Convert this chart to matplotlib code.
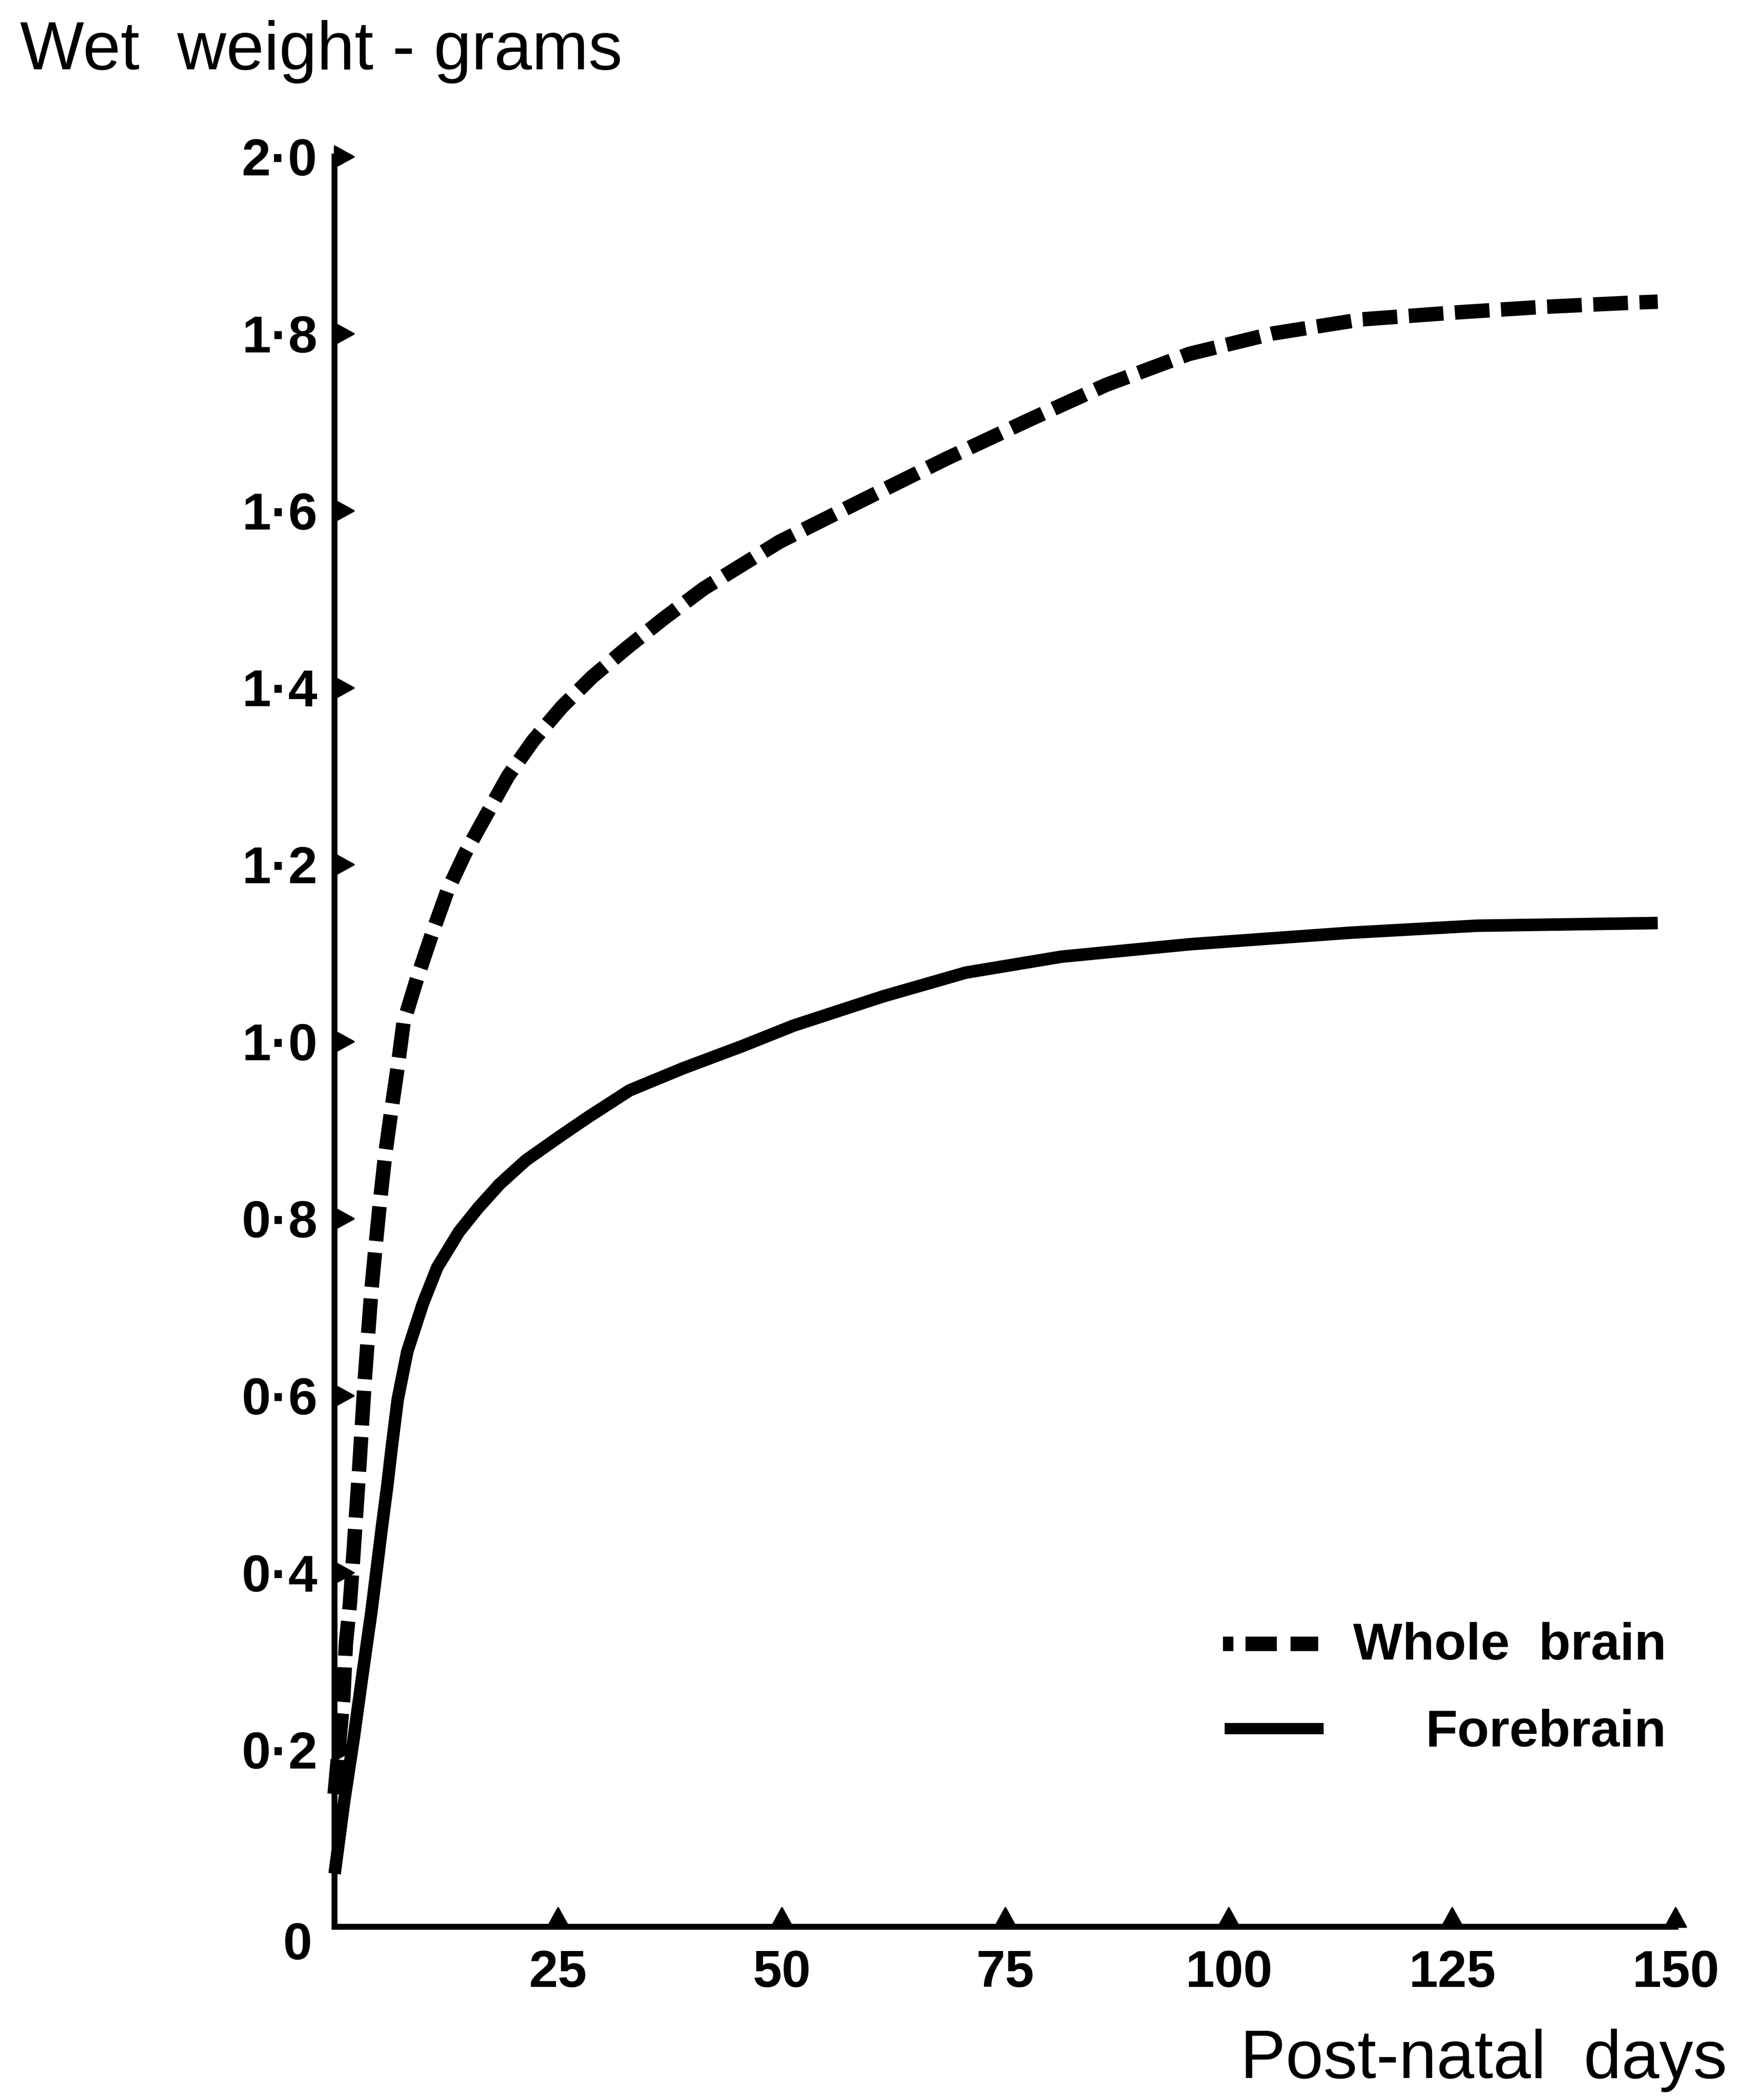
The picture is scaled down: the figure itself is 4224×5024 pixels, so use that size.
import numpy as np
import matplotlib
matplotlib.use("Agg")
import matplotlib.pyplot as plt
from matplotlib.path import Path
from matplotlib.transforms import ScaledTranslation

plt.rcParams["font.family"] = ["Liberation Sans", "DejaVu Sans"]

# Wet weight (g) against post-natal age (days)
whole_days = [0, 0.98, 1.26, 1.7, 2.06, 2.4, 2.73, 3.06, 3.37, 3.74, 4.12, 4.59, 5.08,
              5.64, 6.28, 7.05, 7.7, 9.3, 10.9, 12.6, 14.6, 16.9, 19.4, 22.2, 25.4,
              28.8, 32.7, 36.8, 41.3, 49.8, 59.1, 68.5, 77.8, 86.3, 95.6, 104.9,
              114.9, 125.7, 135.0, 145.4, 148.0]
whole_brain = [0.15, 0.26, 0.32, 0.364, 0.415, 0.466, 0.515, 0.568, 0.618, 0.669, 0.72,
               0.77, 0.82, 0.871, 0.918, 0.971, 1.021, 1.074, 1.122, 1.17, 1.213, 1.255,
               1.30, 1.34, 1.378, 1.412, 1.445, 1.478, 1.512, 1.565, 1.612, 1.659,
               1.703, 1.742, 1.777, 1.800, 1.816, 1.824, 1.830, 1.835, 1.836]

fore_days = [0, 1.07, 2.15, 3.13, 4.1, 4.56, 5.28, 5.9, 6.39, 7.06, 8.13, 9.87, 11.48,
             13.9, 16.04, 18.45, 21.4, 25.2, 28.4, 33.0, 39.0, 45.6, 51.3, 61.3, 70.6,
             81.3, 95.6, 113.5, 127.8, 148.0]
forebrain = [0.06, 0.142, 0.214, 0.286, 0.355, 0.392, 0.451, 0.499, 0.542, 0.596, 0.650,
             0.704, 0.745, 0.785, 0.812, 0.839, 0.866, 0.893, 0.915, 0.945, 0.970, 0.995,
             1.018, 1.051, 1.078, 1.096, 1.110, 1.123, 1.131, 1.134]

x_ticks = [25, 50, 75, 100, 125, 150]
y_ticks = [0, 0.2, 0.4, 0.6, 0.8, 1.0, 1.2, 1.4, 1.6, 1.8, 2.0]
y_tick_labels = ["0", "0·2", "0·4", "0·6", "0·8", "1·0", "1·2", "1·4", "1·6", "1·8", "2·0"]

INK = "#000000"

fig = plt.figure(figsize=(14.08, 16.7467), dpi=300)
ax = fig.add_axes([0.1897, 0.0816, 0.7602, 0.8438])

dash_lw = 8.3
line_lw = 7.2
ax.plot(whole_days, whole_brain, color=INK, lw=dash_lw, dashes=(2.4, 0.8),
        solid_joinstyle="round", clip_on=False)
ax.plot(fore_days, forebrain, color=INK, lw=line_lw, solid_capstyle="butt",
        solid_joinstyle="round", clip_on=False)

ax.set_xlim(0, 150)
ax.set_ylim(0, 2.0)
for side in ("top", "right"):
    ax.spines[side].set_visible(False)
for side in ("left", "bottom"):
    ax.spines[side].set_linewidth(3.4)
    ax.spines[side].set_color(INK)

ax.set_xticks(x_ticks)
ax.set_xticklabels([str(v) for v in x_ticks])
ax.set_yticks(y_ticks)
ax.set_yticklabels(y_tick_labels)
ax.tick_params(axis="both", length=0, labelsize=30, colors=INK)
ax.tick_params(axis="x", pad=13)
ax.tick_params(axis="y", pad=10)
for lab in ax.get_xticklabels() + ax.get_yticklabels():
    lab.set_fontweight("bold")
# the origin label sits a little lower and further out
zero_lab = ax.get_yticklabels()[0]
zero_lab.set_transform(zero_lab.get_transform()
                       + ScaledTranslation(-3 / 72, -8 / 72, fig.dpi_scale_trans))

# triangular tick marks sitting on the axis lines
tri_right = Path([(0, -0.55), (1, 0), (0, 0.55), (0, -0.55)],
                 [Path.MOVETO, Path.LINETO, Path.LINETO, Path.CLOSEPOLY])
tri_up = Path([(-0.55, 0), (0, 1), (0.55, 0), (-0.55, 0)],
              [Path.MOVETO, Path.LINETO, Path.LINETO, Path.CLOSEPOLY])
ax.plot(np.zeros(len(y_ticks) - 1), y_ticks[1:], ls="none", marker=tri_right,
        markersize=22, color=INK, clip_on=False)
ax.plot(x_ticks, np.zeros(len(x_ticks)), ls="none", marker=tri_up,
        markersize=22, color=INK, clip_on=False)

# legend drawn by hand: samples on the left, labels flush right
tr = ax.transAxes
ax.plot([0.6623, 0.7332], [0.160, 0.160], transform=tr, color=INK, lw=dash_lw,
        dashes=(0.72, 0.84, 2.17, 0.95, 2.17, 1.0), clip_on=False)
ax.plot([0.6637, 0.7373], [0.112, 0.112], transform=tr, color=INK, lw=6.5,
        solid_capstyle="butt", clip_on=False)
ax.text(0.993, 0.151, "Whole  brain", transform=tr, ha="right", va="baseline",
        fontsize=30, fontweight="bold", color=INK)
ax.text(0.993, 0.102, "Forebrain", transform=tr, ha="right", va="baseline",
        fontsize=30, fontweight="bold", color=INK)

fig.text(0.0114, 0.967, "Wet  weight - grams", ha="left", va="baseline",
         fontsize=39, color=INK)
fig.text(0.979, 0.0095, "Post-natal  days", ha="right", va="baseline",
         fontsize=39, color=INK)

fig.savefig("out.png", dpi=300, facecolor="white")
plt.close(fig)
